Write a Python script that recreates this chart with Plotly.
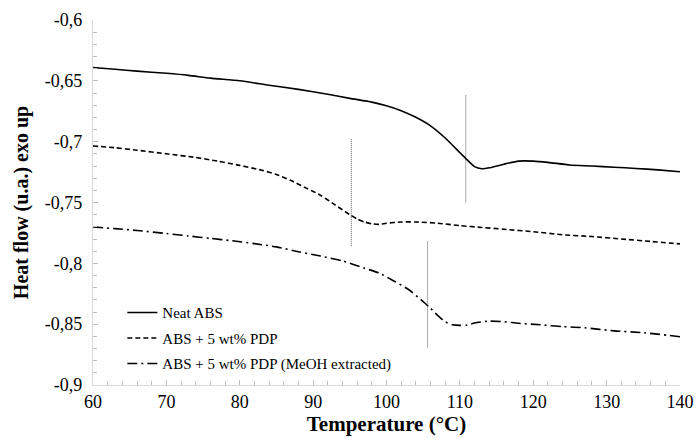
import plotly.graph_objects as go

# ---- data ----
neat_x = [60, 63, 66, 70, 73, 76, 80, 84, 88, 92, 95, 98, 100, 102, 104, 106, 108, 110, 111, 112, 113, 114, 116, 118, 120, 122, 125, 128, 131, 134, 137, 140]
neat_y = [-0.639, -0.6405, -0.642, -0.6438, -0.6455, -0.6478, -0.650, -0.6536, -0.657, -0.661, -0.6644, -0.6675, -0.6705, -0.6745, -0.680, -0.687, -0.697, -0.709, -0.715, -0.7205, -0.7222, -0.7215, -0.7185, -0.716, -0.716, -0.717, -0.7192, -0.7200, -0.721, -0.722, -0.7232, -0.7247]

pdp_x = [60, 63, 66, 70, 74, 77, 80, 83, 85, 87, 89, 91, 93, 95, 96, 97, 98, 99, 100, 102, 104, 107, 110, 113, 116, 120, 124, 128, 132, 136, 140]
pdp_y = [-0.7035, -0.705, -0.707, -0.710, -0.713, -0.716, -0.7195, -0.7235, -0.727, -0.732, -0.738, -0.744, -0.752, -0.760, -0.7635, -0.766, -0.7675, -0.768, -0.767, -0.766, -0.766, -0.767, -0.769, -0.7705, -0.772, -0.774, -0.7765, -0.778, -0.780, -0.782, -0.784]

meoh_x = [60, 63, 66, 70, 73, 76, 79, 82, 85, 88, 91, 94, 97, 99, 101, 103, 105, 106, 107, 108, 109, 110, 111, 112, 114, 116, 118, 121, 124, 127, 131, 135, 140]
meoh_y = [-0.770, -0.7715, -0.773, -0.7755, -0.7775, -0.7795, -0.7815, -0.7838, -0.7865, -0.7905, -0.794, -0.798, -0.804, -0.808, -0.8145, -0.8215, -0.8315, -0.837, -0.843, -0.848, -0.8505, -0.851, -0.8508, -0.849, -0.8475, -0.848, -0.8493, -0.8505, -0.852, -0.853, -0.8555, -0.857, -0.8603]

series_names = ["Neat ABS", "ABS + 5 wt% PDP", "ABS + 5 wt% PDP (MeOH extracted)"]

# glass transition markers (x, y_top, y_bottom)
tg_x = [110.8, 95.2, 105.6]
tg_top = [-0.662, -0.698, -0.782]
tg_bottom = [-0.7505, -0.7865, -0.8695]

y_tickvals = [-0.9, -0.85, -0.8, -0.75, -0.7, -0.65, -0.6]
y_ticktext = ["-0,9", "-0,85", "-0,8", "-0,75", "-0,7", "-0,65", "-0,6"]
x_tickvals = [60, 70, 80, 90, 100, 110, 120, 130, 140]

FONT = "Liberation Serif, Times New Roman, serif"

fig = go.Figure()

# Tg dotted lines
for i in range(len(tg_x)):
    fig.add_trace(go.Scatter(x=[tg_x[i], tg_x[i]], y=[tg_top[i], tg_bottom[i]], mode="lines",
                             line=dict(color="#555555", width=1, dash="1px,1px"),
                             showlegend=False, hoverinfo="skip"))

styles = ["solid", "5px,3px", "10px,4px,2px,4px"]
for i, (xs, ys) in enumerate([(neat_x, neat_y), (pdp_x, pdp_y), (meoh_x, meoh_y)]):
    fig.add_trace(go.Scatter(x=xs, y=ys, mode="lines", name=series_names[i],
                             legendgroup="g%d" % i,
                             line=dict(color="black", width=1.6, dash=styles[i], shape="spline", smoothing=0.6)))

fig.update_layout(
    width=698, height=438,
    margin=dict(l=93, r=18, t=20, b=53),
    paper_bgcolor="white", plot_bgcolor="white",
    font=dict(family=FONT, color="black", size=18),
    legend=dict(x=0.05, y=0.243, xanchor="left", yanchor="top",
                font=dict(family=FONT, size=15, color="black"),
                bgcolor="rgba(0,0,0,0)", traceorder="grouped", tracegroupgap=3,
                itemwidth=30),
    showlegend=True,
)

fig.update_xaxes(range=[60, 140], tickvals=x_tickvals, ticktext=[str(v) for v in x_tickvals],
                 automargin=False,
                 showline=True, linecolor="#d9d9d9", linewidth=1.2, showgrid=False, zeroline=False,
                 ticks="inside", ticklen=5, tickcolor="#bfbfbf",
                 minor=dict(dtick=2, ticks="inside", ticklen=4, tickcolor="#bfbfbf", showgrid=False),
                 tickfont=dict(family=FONT, size=18),
                 title=dict(text="<b>Temperature (°C)</b>", font=dict(family=FONT, size=21), standoff=2))

fig.update_yaxes(range=[-0.9, -0.6], tickvals=y_tickvals, ticktext=y_ticktext,
                 automargin=False,
                 showline=True, linecolor="#d9d9d9", linewidth=1.2, showgrid=False, zeroline=False,
                 ticks="inside", ticklen=5, tickcolor="#bfbfbf", ticklabelstandoff=6,
                 minor=dict(dtick=0.01, tick0=-0.9, ticks="inside", ticklen=4, tickcolor="#bfbfbf", showgrid=False),
                 tickfont=dict(family=FONT, size=18),
                 title=dict(text="<b>Heat flow (u.a.) exo up</b>", font=dict(family=FONT, size=20), standoff=10))

fig.write_html("out.html", config={"displayModeBar": False},
               post_script="document.body.style.margin='0';document.body.style.overflow='hidden';")
